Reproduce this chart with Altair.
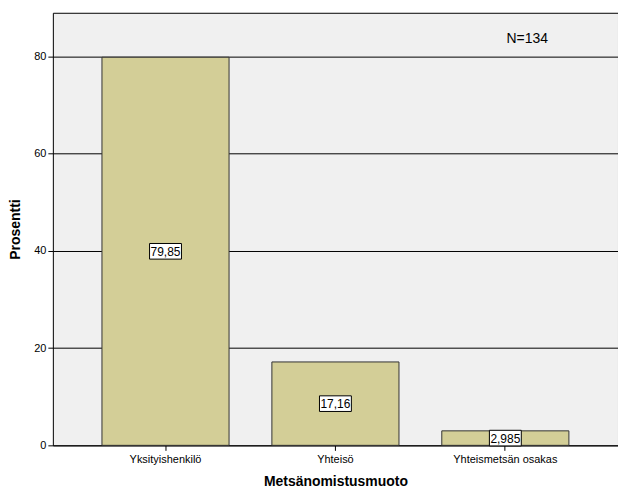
import altair as alt
import pandas as pd

categories = ["Yksityishenkilö", "Yhteisö", "Yhteismetsän osakas"]
values = [79.85, 17.16, 2.985]
value_labels = ["79,85", "17,16", "2,985"]
y_ticks = [0, 20, 40, 60, 80]
n_text = "N=134"

df = pd.DataFrame({"cat": categories, "val": values, "lab": value_labels})
note = pd.DataFrame({"cat": [categories[2]], "val": [83.7], "lab": [n_text]})

FONT = "Liberation Sans"

x = alt.X("cat:N", sort=categories, title="Metsänomistusmuoto",
          scale=alt.Scale(paddingInner=0.252, paddingOuter=0.289),
          axis=alt.Axis(labelAngle=0, labelFontSize=11, labelColor="#000",
                        labelFont=FONT, tickColor="#000", tickSize=5,
                        domain=False, titleFont=FONT, titleFontSize=14,
                        titleFontWeight="bold", titleColor="#000",
                        titlePadding=10, labelPadding=3))
y_scale = alt.Scale(domain=[0, 89], nice=False)

bars = alt.Chart(df).mark_bar(color="#d3ce97", stroke="#333333", strokeWidth=1).encode(
    x=x,
    y=alt.Y("val:Q", scale=y_scale, title="Prosentti",
            axis=alt.Axis(values=y_ticks, grid=True, gridColor="#000", gridOpacity=1,
                          gridWidth=1, labelFontSize=11, labelFont=FONT,
                          labelColor="#000", tickColor="#000", tickSize=5,
                          domain=False, titleFont=FONT, titleFontSize=14,
                          titleFontWeight="bold", titleColor="#000",
                          titlePadding=11, labelPadding=2)),
)

base_lab = alt.Chart(df).transform_calculate(mid="datum.val / 2")

boxes = base_lab.mark_point(
    shape="M-1,-0.49H1V0.49H-1Z", size=1024, filled=True, fill="white",
    stroke="#000", strokeWidth=1, opacity=1).encode(
    x=alt.X("cat:N", sort=categories),
    y=alt.Y("mid:Q", scale=y_scale),
)

texts = base_lab.mark_text(font=FONT, fontSize=12, color="#000", dy=0.5).encode(
    x=alt.X("cat:N", sort=categories),
    y=alt.Y("mid:Q", scale=y_scale),
    text="lab:N",
)

ntext = alt.Chart(note).mark_text(font=FONT, fontSize=14, color="#000", dx=22).encode(
    x=alt.X("cat:N", sort=categories),
    y=alt.Y("val:Q", scale=y_scale),
    text="lab:N",
)

chart = alt.layer(bars, boxes, texts, ntext).properties(
    width=567, height=434, padding={"left": 0, "top": 4, "right": 0, "bottom": 0},
    background="white",
).configure_view(fill="#f0f0f0", stroke="#000", strokeWidth=1)

chart.save("out.html", embed_options={"renderer": "svg", "actions": False})
